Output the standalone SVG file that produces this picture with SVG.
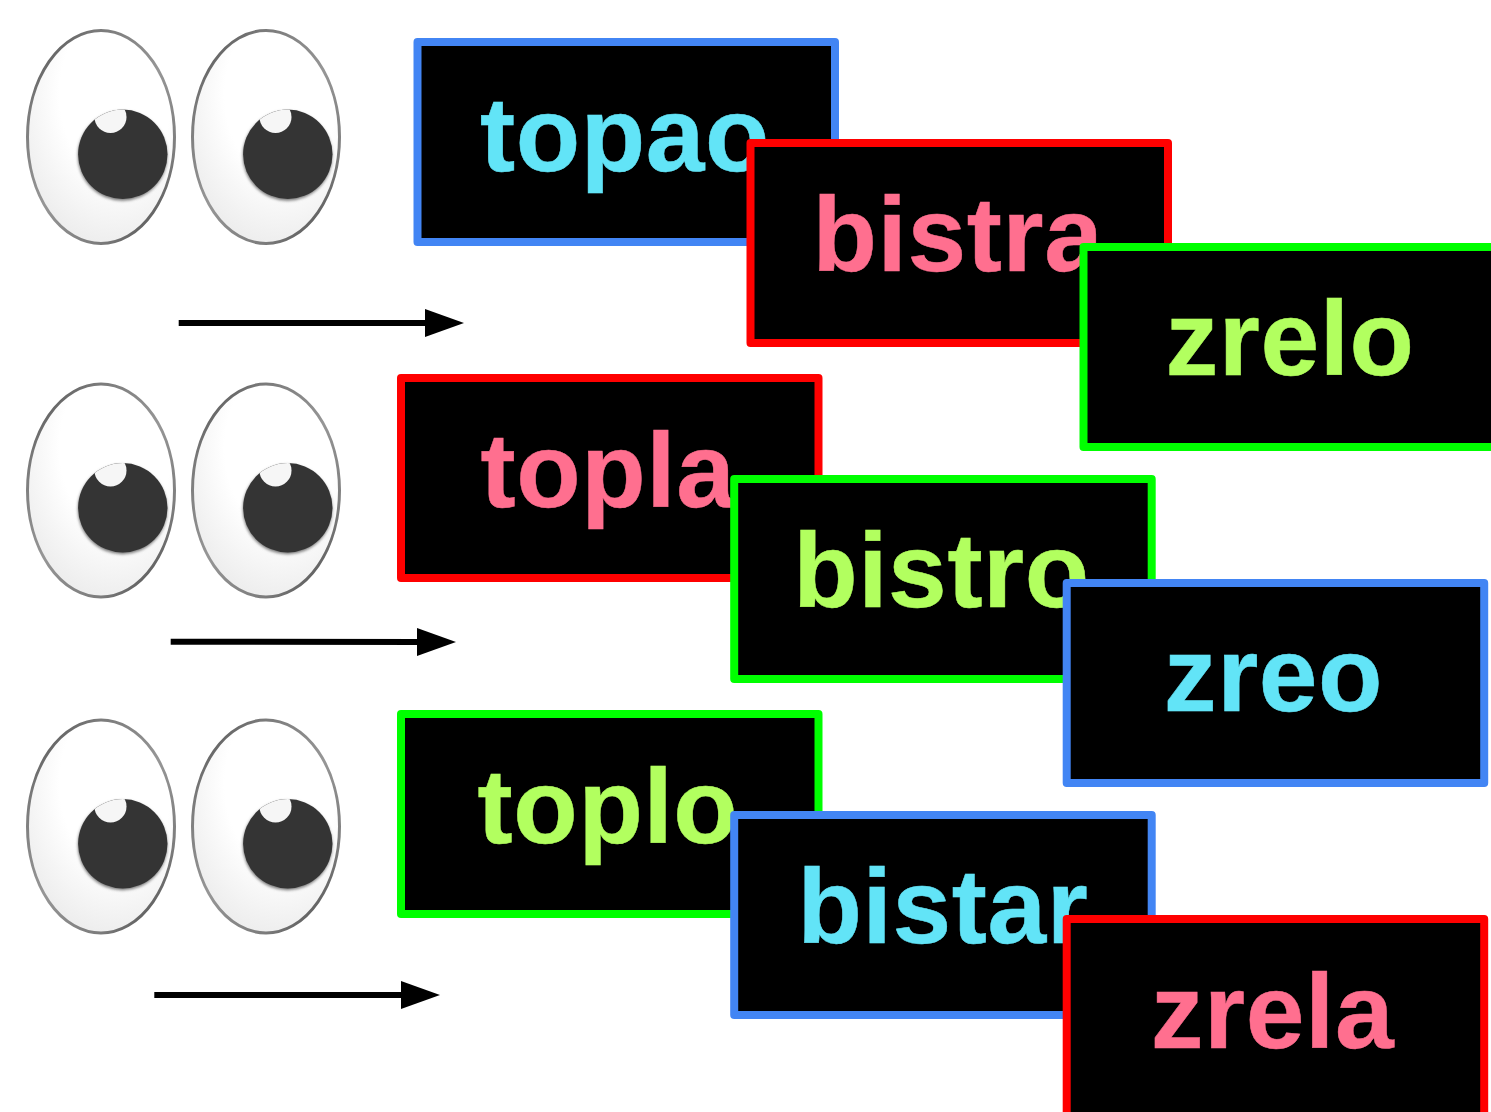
<svg xmlns="http://www.w3.org/2000/svg" width="1491" height="1112" viewBox="0 0 1491 1112">
<style>
.box{fill:#000;stroke-width:8;stroke-linejoin:round}
.t{font-family:"Liberation Sans",Arial,sans-serif;font-weight:700;font-size:105.5px;letter-spacing:.6px;text-anchor:middle;stroke-width:.5;paint-order:stroke}
.b{stroke:#4285f4}.r{stroke:#ff0000}.g{stroke:#00ff00}
.tb{fill:#62e4f7;stroke:#62e4f7}.tr{fill:#ff6f8f;stroke:#ff6f8f}.tg{fill:#b2ff5f;stroke:#b2ff5f}
.ar{stroke:#000;stroke-width:6;fill:none}
</style>
<defs>
<radialGradient id="white" cx="0.6" cy="0.3" r="0.85"><stop offset="0.45" stop-color="#ffffff"/><stop offset="1" stop-color="#e6e6e6"/></radialGradient>
<linearGradient id="rim" x1="0.1" y1="0" x2="0.9" y2="1"><stop offset="0" stop-color="#505050"/><stop offset="0.18" stop-color="#7a7a7a"/><stop offset="0.5" stop-color="#969696"/><stop offset="0.8" stop-color="#7c7c7c"/><stop offset="1" stop-color="#4c4c4c"/></linearGradient>
<clipPath id="pupilClip"><circle cx="122.8" cy="154.3" r="44.7"/></clipPath>
<filter id="soft" x="-20%" y="-20%" width="140%" height="140%"><feGaussianBlur stdDeviation="1.6"/></filter>
<g id="eye">
<ellipse cx="101" cy="137" rx="73.5" ry="106.5" fill="url(#white)" stroke="url(#rim)" stroke-width="3"/>
<circle cx="122.5" cy="156" r="44.7" fill="#777" filter="url(#soft)"/>
<circle cx="122.8" cy="154.3" r="44.7" fill="#343434"/>
<circle cx="110.5" cy="117" r="16" fill="#f6f6f6" clip-path="url(#pupilClip)"/>
</g>
<marker id="head" markerUnits="userSpaceOnUse" markerWidth="40" markerHeight="30" refX="1" refY="14.5" orient="auto"><path d="M0 0.5L39 14.5L0 28.5Z" fill="#000"/></marker>
</defs>
<rect width="1491" height="1112" fill="#fff"/>
<g id="eyes-1"><use href="#eye"/><use href="#eye" x="165"/></g>
<g id="eyes-2"><use href="#eye" y="353.5"/><use href="#eye" x="165" y="353.5"/></g>
<g id="eyes-3"><use href="#eye" y="689.5"/><use href="#eye" x="165" y="689.5"/></g>
<g id="connectors">
<line class="ar" x1="178.7" y1="323" x2="426" y2="323" marker-end="url(#head)"/>
<line class="ar" x1="170.7" y1="641.7" x2="418" y2="642" marker-end="url(#head)"/>
<line class="ar" x1="154.3" y1="995" x2="402" y2="995" marker-end="url(#head)"/>
</g>
<g id="topao"><rect class="box b" x="417.5" y="42" width="417.5" height="200"/><text class="t tb" x="625" y="171">topao</text></g>
<g id="bistra"><rect class="box r" x="750.5" y="143" width="417.5" height="200"/><text class="t tr" x="958" y="271">bistra</text></g>
<g id="zrelo"><rect class="box g" x="1083.5" y="247" width="417.5" height="200"/><text class="t tg" x="1290" y="375">zrelo</text></g>
<g id="topla"><rect class="box r" x="401" y="378" width="417.5" height="200"/><text class="t tr" x="608" y="507">topla</text></g>
<g id="bistro"><rect class="box g" x="734.2" y="479" width="417.5" height="200"/><text class="t tg" x="941.5" y="607">bistro</text></g>
<g id="zreo"><rect class="box b" x="1066.7" y="583" width="417.5" height="200"/><text class="t tb" x="1273.5" y="711">zreo</text></g>
<g id="toplo"><rect class="box g" x="401" y="714" width="417.5" height="200"/><text class="t tg" x="608" y="843">toplo</text></g>
<g id="bistar"><rect class="box b" x="734.2" y="815" width="417.5" height="200"/><text class="t tb" x="943" y="943">bistar</text></g>
<g id="zrela"><rect class="box r" x="1066.7" y="919" width="417.5" height="200"/><text class="t tr" x="1272.5" y="1047.5">zrela</text></g>
</svg>
